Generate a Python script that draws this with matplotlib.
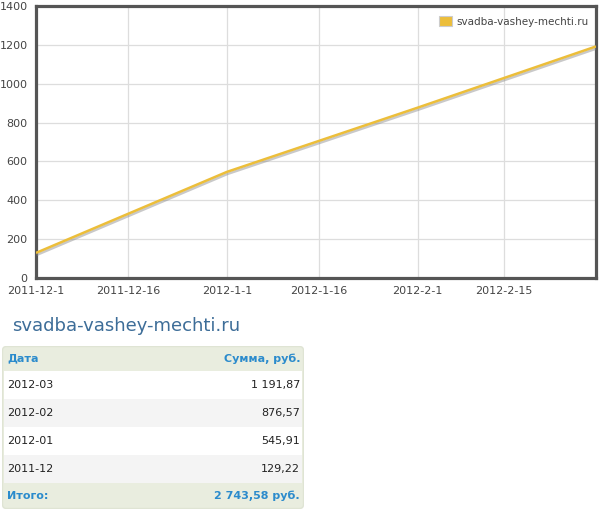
import datetime as dt
import matplotlib
matplotlib.use("Agg")
import matplotlib.pyplot as plt
import matplotlib.dates as mdates
import matplotlib.patheffects as pe
from matplotlib.patches import Patch, Rectangle, FancyBboxPatch

# данные
site = "svadba-vashey-mechti.ru"
dates = [dt.date(2011, 12, 1), dt.date(2012, 1, 1), dt.date(2012, 2, 1), dt.date(2012, 3, 1)]
values = [129.22, 545.91, 876.57, 1191.87]
tick_dates = [dt.date(2011, 12, 1), dt.date(2011, 12, 16), dt.date(2012, 1, 1),
              dt.date(2012, 1, 16), dt.date(2012, 2, 1), dt.date(2012, 2, 15)]
y_ticks = [0, 200, 400, 600, 800, 1000, 1200, 1400]

table_months = ["2012-03", "2012-02", "2012-01", "2011-12"]
table_sums = ["1 191,87", "876,57", "545,91", "129,22"]
total_sum = "2 743,58 руб."

W, H = 608, 513
fig = plt.figure(figsize=(W / 100, H / 100), dpi=100)

# график
ax = fig.add_axes([36 / W, (H - 278) / H, (596 - 36) / W, (278 - 6) / H])
ax.plot(dates, values, color="#ecbe3a", lw=1.8, solid_capstyle="butt",
        path_effects=[pe.SimpleLineShadow(offset=(0.4, -1.5), shadow_color="#888888", alpha=0.45),
                      pe.Normal()], zorder=3)
ax.set_xlim(dates[0], dates[-1])
ax.set_ylim(0, 1400)
ax.set_xticks(tick_dates)
ax.xaxis.set_major_formatter(plt.FuncFormatter(
    lambda v, p: "{0.year}-{0.month}-{0.day}".format(mdates.num2date(v))))
ax.set_yticks(y_ticks)
ax.grid(True, color="#dddddd", lw=0.9)
ax.set_axisbelow(True)
ax.tick_params(length=0, labelsize=8, labelcolor="#444444", pad=6)
for s in ax.spines.values():
    s.set_color("#555555")
    s.set_linewidth(2.3)

ax.legend(handles=[Patch(facecolor="#ecbe3a", edgecolor="#cccccc", lw=0.8, label=site)],
          loc="upper right", frameon=False, fontsize=7.5, labelcolor="#444444",
          handlelength=1.3, handleheight=1.1, handletextpad=0.4,
          borderaxespad=0.3, bbox_to_anchor=(1.0, 0.99))

# заголовок
fig.text(12 / W, (H - 326) / H, site, fontsize=13, color="#3d6d98", va="center")

# таблица
tx = fig.add_axes([2 / W, (H - 509) / H, 302 / W, 163 / H])
tx.set_xlim(0, 302)
tx.set_ylim(163, 0)
tx.axis("off")

tx.add_patch(FancyBboxPatch((0.5, 0.5), 301, 162, boxstyle="round,pad=0,rounding_size=4",
                            facecolor="#e9eddf", edgecolor="#dfe4d4", lw=1))
row_h = 28
top = 25
for i, (m, s) in enumerate(zip(table_months, table_sums)):
    y0 = top + i * row_h
    tx.add_patch(Rectangle((2, y0), 298, row_h, facecolor="#ffffff" if i % 2 == 0 else "#f4f4f4",
                           edgecolor="none"))
    tx.text(5, y0 + row_h / 2, m, fontsize=8, color="#222222", va="center")
    tx.text(298, y0 + row_h / 2, s, fontsize=8, color="#222222", va="center", ha="right")

blue = "#2b8bcc"
tx.text(5, 12.5, "Дата", fontsize=8, color=blue, fontweight="bold", va="center")
tx.text(298, 12.5, "Сумма, руб.", fontsize=8, color=blue, fontweight="bold", va="center", ha="right")
tx.text(5, 150, "Итого:", fontsize=8, color=blue, fontweight="bold", va="center")
tx.text(298, 150, total_sum, fontsize=8, color=blue, fontweight="bold", va="center", ha="right")

fig.savefig("out.png", dpi=100)
